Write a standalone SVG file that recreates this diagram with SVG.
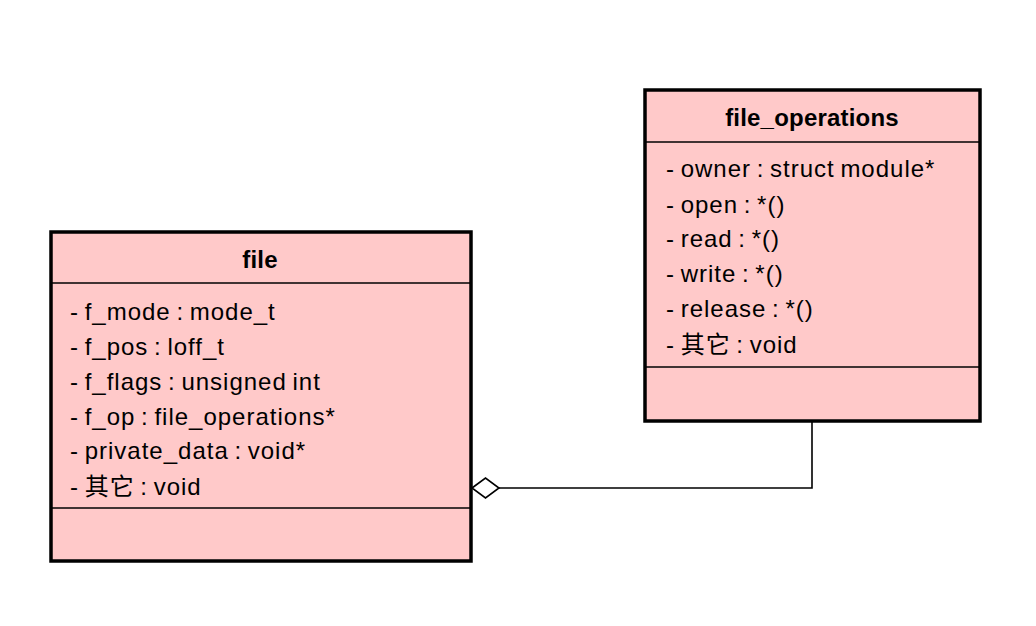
<svg xmlns="http://www.w3.org/2000/svg" width="1036" height="626" viewBox="0 0 1036 626">
<style>
.box{fill:#ffc9c9;stroke:#000;stroke-width:3.5}
.sep{stroke:#000;stroke-width:1.6;fill:none}
.t{font-family:"Liberation Sans",Arial,"Noto Sans CJK SC",sans-serif;font-size:24px;letter-spacing:1px;word-spacing:-2px;fill:#000}
.h{font-family:"Liberation Sans",Arial,sans-serif;font-size:24px;font-weight:bold;letter-spacing:0.2px;fill:#000;text-anchor:middle}
.c{stroke:#000;stroke-width:1.6;fill:none}
</style>
<rect width="1036" height="626" fill="#fff"/>
<g id="connectors">
<polyline class="c" points="812,422 812,488 499,488"/>
<polygon points="472,488 485.5,478 499,488 485.5,498" fill="#fff" stroke="#000" stroke-width="1.6"/>
</g>
<g id="file">
<rect class="box" x="51" y="232" width="420" height="329"/>
<line class="sep" x1="51" y1="283" x2="471" y2="283"/>
<line class="sep" x1="51" y1="508" x2="471" y2="508"/>
<text class="h" x="260" y="268">file</text>
<text class="t" x="70" y="320">- f_mode : mode_t</text>
<text class="t" x="70" y="355">- f_pos : loff_t</text>
<text class="t" x="70" y="390">- f_flags : unsigned int</text>
<text class="t" x="70" y="425">- f_op : file_operations*</text>
<text class="t" x="70" y="459">- private_data : void*</text>
<text class="t" x="70" y="495">- 其它 : void</text>
</g>
<g id="file_operations">
<rect class="box" x="645" y="90" width="335" height="331"/>
<line class="sep" x1="645" y1="142" x2="980" y2="142"/>
<line class="sep" x1="645" y1="367" x2="980" y2="367"/>
<text class="h" x="812" y="126">file_operations</text>
<text class="t" x="666" y="177">- owner : struct module*</text>
<text class="t" x="666" y="213">- open : *()</text>
<text class="t" x="666" y="247">- read : *()</text>
<text class="t" x="666" y="282">- write : *()</text>
<text class="t" x="666" y="317">- release : *()</text>
<text class="t" x="666" y="353">- 其它 : void</text>
</g>
</svg>
